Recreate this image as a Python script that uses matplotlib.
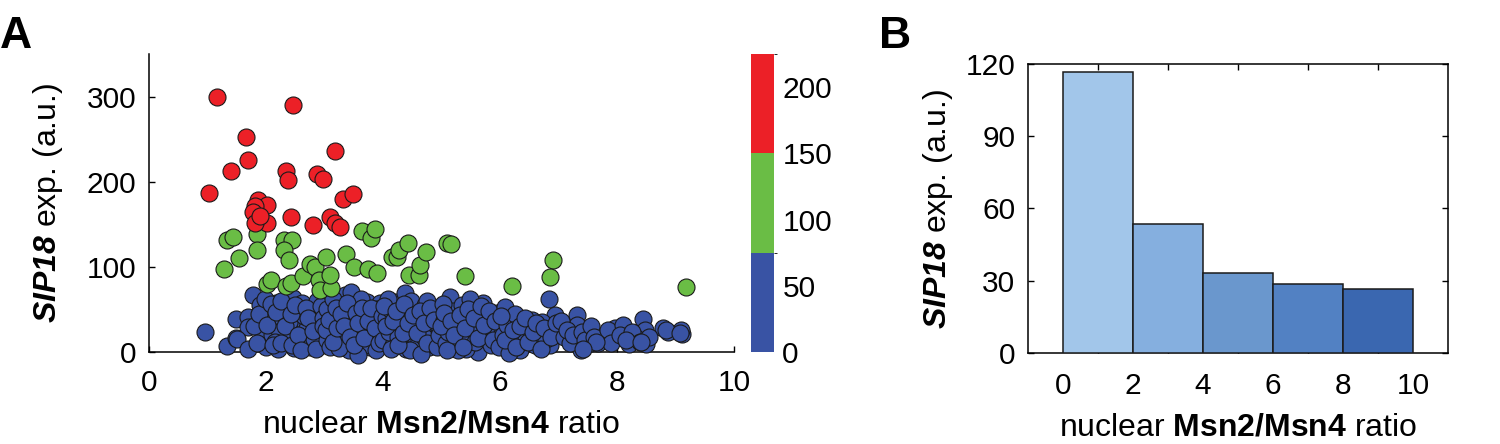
import matplotlib
matplotlib.use("Agg")
import matplotlib.pyplot as plt
from matplotlib.colors import ListedColormap, BoundaryNorm
import matplotlib.cm as cm

plt.rcParams['font.family'] = ['Liberation Sans', 'DejaVu Sans']
plt.rcParams['mathtext.fontset'] = 'custom'
plt.rcParams['mathtext.rm'] = 'Liberation Sans'
plt.rcParams['mathtext.bf'] = 'Liberation Sans:bold'
plt.rcParams['mathtext.bfit'] = 'Liberation Sans:italic:bold'

# ---- panel A data ----
red_x = [1.17, 2.46, 1.66, 3.18, 1.70, 1.40, 2.34, 2.37, 2.87, 2.98, 1.03, 3.32, 3.49,
         1.87, 2.01, 1.81, 1.78, 2.42, 3.09, 3.18, 3.26, 2.80, 2.01, 1.81, 1.90]
red_y = [300, 290, 252, 236, 225, 212, 213, 202, 209, 203, 187, 180, 186,
         178, 173, 172, 164, 159, 158, 152, 147, 149, 151, 152, 160]

green_x = [1.33, 1.44, 1.28, 1.54, 1.84, 1.85, 2.30, 2.45, 2.30, 2.40, 2.01, 2.09, 2.35,
           2.42, 2.64, 2.75, 2.84, 3.03, 2.91, 2.92, 3.12, 3.09, 3.37, 3.50, 3.65, 3.80,
           3.86, 3.75, 3.90, 4.16, 4.24, 4.28, 4.42, 4.45, 4.62, 4.64, 4.74, 5.10, 5.17,
           5.40, 6.91, 6.86, 6.20, 9.18]
green_y = [131, 135, 98, 110, 139, 120, 132, 132, 120, 108, 80, 84, 78,
           81, 89, 103, 100, 112, 85, 73, 75, 90, 115, 100, 142, 134,
           145, 97, 93, 111, 111, 120, 128, 91, 90, 102, 117, 128, 127,
           89, 108, 88, 77, 76]

blue_x = [0.96, 1.33, 1.49, 1.49, 1.70, 1.78, 1.70, 1.95, 1.93, 1.50, 1.79, 1.90, 1.70, 2.00,
          2.17, 2.35, 2.35, 2.52, 2.75, 2.12, 2.32, 2.46, 2.38, 2.58, 2.54, 2.78, 2.75, 2.30,
          2.05, 2.10, 2.22, 2.28, 2.44, 2.48, 2.62, 2.66, 2.70, 2.85, 2.88, 2.92, 2.95, 2.20,
          2.58, 2.90, 2.15, 2.40, 2.65, 2.82,
          1.85, 1.88, 1.98, 2.02, 2.08, 2.12, 2.18, 2.25, 2.26, 2.32, 2.42, 2.45, 2.50, 2.55,
          2.60, 2.68, 2.72, 2.80, 2.86, 2.94, 2.97,
          3.04, 2.98, 3.21, 3.26, 3.35, 3.50, 3.46, 3.52, 3.72, 3.78, 3.95, 3.35, 3.10, 3.78,
          3.05, 3.12, 3.18, 3.30, 3.40, 3.42, 3.55, 3.60, 3.65, 3.70, 3.82, 3.85, 3.90, 3.92,
          3.15, 3.62, 3.25, 3.48, 3.58, 3.88, 3.30,
          3.02, 3.08, 3.14, 3.20, 3.22, 3.28, 3.34, 3.38, 3.44, 3.50, 3.54, 3.58, 3.64, 3.68,
          3.74, 3.80, 3.86, 3.94, 3.98,
          4.00, 4.20, 4.30, 4.38, 4.54, 4.56, 4.50, 4.17, 4.05, 4.10, 4.12, 4.25, 4.32, 4.40,
          4.45, 4.48, 4.60, 4.62, 4.68, 4.72, 4.75, 4.78, 4.82, 4.85, 4.90, 4.95, 4.98, 4.46,
          4.65, 4.28, 4.08, 4.70,
          4.02, 4.06, 4.14, 4.18, 4.22, 4.26, 4.34, 4.36, 4.42, 4.52, 4.58, 4.64, 4.70, 4.76,
          4.80, 4.88, 4.92, 4.96,
          5.15, 5.71, 5.63, 5.05, 5.08, 5.12, 5.20, 5.25, 5.30, 5.35, 5.38, 5.42, 5.45, 5.50,
          5.52, 5.58, 5.60, 5.66, 5.75, 5.80, 5.85, 5.90, 5.95, 5.28, 5.48, 5.02, 5.78,
          5.00, 5.04, 5.10, 5.16, 5.22, 5.32, 5.36, 5.40, 5.46, 5.55, 5.62, 5.68, 5.72, 5.82,
          5.88, 5.92, 5.98,
          6.09, 6.54, 6.34, 6.20, 6.38, 6.83, 6.94, 6.99, 6.85, 6.05, 6.12, 6.18, 6.25, 6.30,
          6.45, 6.50, 6.60, 6.65, 6.72, 6.78, 6.90, 6.15,
          6.02, 6.08, 6.22, 6.28, 6.35, 6.42, 6.48, 6.56, 6.62, 6.70, 6.76, 6.88, 6.95,
          7.31, 7.31, 7.39, 7.68, 7.50, 7.97, 7.95, 7.10, 7.20, 7.05, 7.15, 7.25, 7.40, 7.45,
          7.55, 7.60, 7.85, 7.90, 7.65, 7.42,
          8.10, 8.45, 8.48, 8.33, 8.50, 8.20, 8.79, 8.87, 9.12, 9.10, 8.05, 8.25, 8.40, 8.55,
          8.15, 8.41, 8.83, 9.07]
blue_y = [23, 7, 16, 39, 41, 67, 29, 53, 26, 15, 30, 55, 4, 6,
          57, 51, 16, 32, 18, 34, 51, 63, 14, 39, 30, 49, 6, 12,
          44, 20, 26, 40, 22, 5, 58, 12, 28, 36, 60, 22, 8, 3,
          47, 44, 12, 35, 42, 15,
          10, 45, 62, 32, 56, 8, 47, 60, 10, 30, 45, 8, 55, 20,
          2, 52, 40, 25, 4, 54, 40,
          14, 30, 43, 58, 67, 57, 70, 37, 59, 27, 58, 10, 6, 6,
          50, 24, 33, 20, 48, 2, 15, 44, 26, 8, 40, 18, 50, 32,
          62, 62, 5, 28, -3, 2, 38,
          26, 38, 12, 52, 28, 45, 30, 58, 18, 8, 46, 34, 52, 16,
          36, 52, 28, 10, 42,
          14, 59, 30, 69, 32, 52, 10, 8, 40, 24, 50, 18, 44, 4,
          22, 60, 40, 14, 26, 55, 60, 6, 34, 45, 18, 28, 50, 2,
          -2, 36, 62, 18,
          54, 30, 4, 36, 48, 8, 22, 56, 34, 44, 22, 48, 34, 10,
          52, 38, 6, 20,
          65, 58, 0, 38, 10, 24, 48, 30, 14, 55, 40, 4, 22, 34,
          50, 12, 28, 42, 18, 38, 8, 26, 46, 2, 62, 56, 30,
          30, 46, 2, 36, 20, 44, 6, 28, 50, 40, 16, 54, 32, 48,
          14, 36, 6,
          53, 37, 2, 37, 12, 62, 43, 26, 8, 20, 32, 10, 45, 24,
          18, 30, 8, 22, 35, 15, 28, -1,
          42, 14, 26, 6, 30, 40, 12, 24, 34, 4, 28, 18, 34,
          43, 32, 2, 11, 9, 28, 19, 18, 10, 36, 26, 20, 24, 14,
          30, 18, 26, 10, 12, 3,
          32, 39, 26, 16, 9, 9, 28, 24, 21, 26, 20, 24, 12, 18,
          14, 12, 26, 22]

# ---- panel B data ----
bar_pos = [1, 2, 3, 4, 5]
bar_vals = [116.5, 53.7, 33.4, 28.8, 26.7]
bar_colors = ['#A2C6EA', '#85AFDF', '#6A97CD', '#5281C3', '#3A67B0']
bin_labels = ['0', '2', '4', '6', '8', '10']

red = '#EC2027'
green = '#6ABD45'
blue = '#3953A4'

fig = plt.figure(figsize=(15, 4.44), dpi=100)

# ---- panel A ----
ax = fig.add_axes([0.0993, 0.2072, 0.39, 0.6712])
for xs, ys, c in [(blue_x, blue_y, blue), (green_x, green_y, green), (red_x, red_y, red)]:
    ax.scatter(xs, ys, s=150, c=c, edgecolors='#1a1a1a', linewidths=0.8, clip_on=False, zorder=3)
ax.set_xlim(0, 10)
ax.set_ylim(0, 350)
ax.set_xticks([0, 2, 4, 6, 8, 10])
ax.set_yticks([0, 100, 200, 300])
ax.spines['top'].set_visible(False)
ax.spines['right'].set_visible(False)
for s in ['left', 'bottom']:
    ax.spines[s].set_linewidth(1.1)
    ax.spines[s].set_zorder(2)
ax.tick_params(direction='in', length=4, width=1, labelsize=21.5)
ax.tick_params(axis='x', pad=12)
ax.tick_params(axis='y', pad=9)
ax.set_xlabel(r'nuclear $\mathbf{Msn2/Msn4}$ ratio', fontsize=23, labelpad=9)
ax.set_ylabel(r'$\mathbfit{SIP18}$ exp. (a.u.)', fontsize=23, labelpad=16)

# colorbar
cax = fig.add_axes([0.5007, 0.2072, 0.0153, 0.6712])
cmap = ListedColormap([blue, green, red])
norm = BoundaryNorm([0, 75, 150, 225], cmap.N)
cb = fig.colorbar(cm.ScalarMappable(norm=norm, cmap=cmap), cax=cax)
cb.outline.set_visible(False)
cb.set_ticks([0, 50, 100, 150, 200])
cax.tick_params(length=0, labelsize=21.5, pad=6)

# ---- panel B ----
bx = fig.add_axes([0.6853, 0.205, 0.28, 0.6509])
bx.bar(bar_pos, bar_vals, width=1.0, color=bar_colors, edgecolor='#1a1a1a', linewidth=1.1, zorder=3)
bx.set_xlim(0, 6)
bx.set_ylim(0, 120)
bx.set_yticks([0, 30, 60, 90, 120])
bx.set_xticks(bar_pos)
bx.set_xticklabels([])
bx.set_xticks([p - 0.5 for p in bar_pos] + [5.5], bin_labels, minor=True)
bx.tick_params(which='minor', length=0, labelsize=21.5, pad=14)
bx.tick_params(which='major', direction='in', length=4, width=1, top=True, right=True,
               labelsize=21.5)
bx.tick_params(axis='y', pad=9)
for s in bx.spines.values():
    s.set_linewidth(1.1)
bx.set_xlabel(r'nuclear $\mathbf{Msn2/Msn4}$ ratio', fontsize=23, labelpad=9)
bx.set_ylabel(r'$\mathbfit{SIP18}$ exp. (a.u.)', fontsize=23, labelpad=8)

fig.text(0.0, 0.965, 'A', fontsize=32, fontweight='bold', va='top', ha='left')
fig.text(0.586, 0.965, 'B', fontsize=32, fontweight='bold', va='top', ha='left')

fig.savefig('out.png', dpi=100)
